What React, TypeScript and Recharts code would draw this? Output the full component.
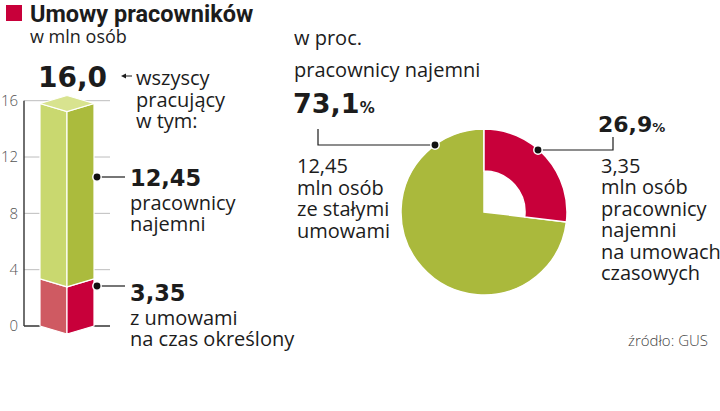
import React from 'react';
import {
  BarChart,
  Bar,
  XAxis,
  YAxis,
  CartesianGrid,
  PieChart,
  Pie,
  Cell,
} from 'recharts';

const categories = ['pracujący'];
const temporaryContracts = [3.35]; // mln, na czas określony
const permanentContracts = [12.45]; // mln, ze stałymi umowami
const yTicks = [0, 4, 8, 12, 16];

const pieNames = ['na umowach czasowych', 'ze stałymi umowami'];
const pieShares = [26.9, 73.1];

const RED = '#c8003a';
const GREEN = '#aab93c';
const TEXT = '#1c1c1c';
const SANS = '"Open Sans", "Noto Sans", sans-serif';
const TITLE = 'Roboto, "Open Sans", sans-serif';
const FIG = '"DejaVu Sans", sans-serif';

const barData = categories.map((name, i) => ({
  name,
  czasowe: temporaryContracts[i],
  stale: permanentContracts[i],
}));

const pieData = pieNames.map((name, i) => ({ name, value: pieShares[i] }));

// front edge of the prism sits lower than its sides
const DEPTH = 8;

const prism = (leftFill: string, rightFill: string, topFill?: string) => (props: any) => {
  const { x, y, width, height } = props;
  const cx = x + width / 2;
  const b = y + height;
  return (
    <g>
      <polygon
        points={`${x},${y} ${cx},${y + DEPTH} ${cx},${b + DEPTH} ${x},${b}`}
        fill={leftFill}
        stroke="#fff"
        strokeWidth={1.2}
      />
      <polygon
        points={`${cx},${y + DEPTH} ${x + width},${y} ${x + width},${b} ${cx},${b + DEPTH}`}
        fill={rightFill}
        stroke="#fff"
        strokeWidth={1.2}
      />
      {topFill && (
        <polygon
          points={`${x},${y} ${cx},${y - DEPTH} ${x + width},${y} ${cx},${y + DEPTH}`}
          fill={topFill}
          stroke="#fff"
          strokeWidth={1.2}
        />
      )}
    </g>
  );
};

const GridLine = (props: any) => {
  const { x1, x2, y1, y2 } = props;
  const isBase = Math.abs(y1 - 326) < 1;
  return (
    <line
      x1={x1}
      x2={x2}
      y1={y1}
      y2={y2}
      stroke={isBase ? '#333' : '#bdbdbd'}
      strokeWidth={isBase ? 1.6 : 1}
    />
  );
};

const Dot = ({ x, y }: { x: number; y: number }) => (
  <circle cx={x} cy={y} r={4.2} fill="#111" stroke="#fff" strokeWidth={1.5} />
);

const Lines = ({ x, y, lines, step }: { x: number; y: number; lines: string[]; step: number }) => (
  <g fontFamily={SANS} fontSize={20} fill={TEXT}>
    {lines.map((l, i) => (
      <text key={i} x={x} y={y + i * step}>
        {l}
      </text>
    ))}
  </g>
);

const Overlay = () => (
  <svg
    width={720}
    height={411}
    style={{ position: 'absolute', left: 0, top: 0, pointerEvents: 'none' }}
  >
    {/* title */}
    <rect x={6} y={5} width={16} height={16} fill={RED} />
    <text x={30} y={22} fontFamily={TITLE} fontWeight={700} fontSize={23.5} fill={TEXT}>
      Umowy pracowników
    </text>
    <text x={30} y={43} fontFamily={SANS} fontSize={18} fill={TEXT}>
      w mln osób
    </text>

    {/* left: total */}
    <text x={38} y={87} fontFamily={FIG} fontWeight={700} fontSize={28} fill={TEXT}>
      16,0
    </text>
    <polygon points="121,76 126,73.5 126,78.5" fill={TEXT} />
    <line x1={125} y1={76} x2={132} y2={76} stroke={TEXT} strokeWidth={1} />
    <Lines x={136} y={85} step={21.5} lines={['wszyscy', 'pracujący', 'w tym:']} />

    {/* left: segments */}
    <line x1={97} y1={177} x2={125} y2={177} stroke={TEXT} strokeWidth={1.2} />
    <Dot x={97} y={177} />
    <text x={130} y={186} fontFamily={FIG} fontWeight={700} fontSize={22.5} fill={TEXT}>
      12,45
    </text>
    <Lines x={130} y={210} step={21} lines={['pracownicy', 'najemni']} />

    <line x1={97} y1={286} x2={125} y2={286} stroke={TEXT} strokeWidth={1.2} />
    <Dot x={97} y={286} />
    <text x={130} y={301} fontFamily={FIG} fontWeight={700} fontSize={22.5} fill={TEXT}>
      3,35
    </text>
    <Lines x={130} y={325} step={21} lines={['z umowami', 'na czas określony']} />

    {/* right: header */}
    <Lines x={294} y={45} step={32} lines={['w proc.', 'pracownicy najemni']} />
    <text x={293} y={113} fontFamily={FIG} fontWeight={700} fontSize={27} fill={TEXT}>
      73,1<tspan fontSize={15}>%</tspan>
    </text>

    <polyline points="318,129 318,145 435,145" fill="none" stroke={TEXT} strokeWidth={1.2} />
    <Dot x={435} y={145} />
    <Lines x={297} y={173} step={21.7} lines={['12,45', 'mln osób', 'ze stałymi', 'umowami']} />

    <text x={598} y={132} fontFamily={FIG} fontWeight={700} fontSize={22} fill={TEXT}>
      26,9<tspan fontSize={13}>%</tspan>
    </text>
    <polyline points="538,150 613,150 613,137" fill="none" stroke={TEXT} strokeWidth={1.2} />
    <Dot x={538} y={150} />
    <Lines
      x={601}
      y={173}
      step={21.4}
      lines={['3,35', 'mln osób', 'pracownicy', 'najemni', 'na umowach', 'czasowych']}
    />

    <text x={628} y={346} fontFamily={SANS} fontWeight={300} fontSize={15} fill="#444">
      źródło: GUS
    </text>
  </svg>
);

const App: React.FC = () => {
  return (
    <div
      style={{
        position: 'absolute',
        left: 0,
        top: 0,
        width: 720,
        height: 411,
        background: '#fff',
        overflow: 'hidden',
      }}
    >
      <div style={{ position: 'absolute', left: 0, top: 0 }}>
        <BarChart
          width={130}
          height={411}
          data={barData}
          margin={{ top: 100.7, right: 20, bottom: 85, left: 0 }}
          barSize={54}
        >
          <CartesianGrid vertical={false} horizontal={GridLine} />
          <XAxis dataKey="name" hide />
          <YAxis
            width={24}
            domain={[0, 16]}
            ticks={yTicks}
            interval={0}
            tickLine={false}
            tickSize={4}
            tickMargin={2}
            axisLine={{ stroke: '#333', strokeWidth: 1.4 }}
            tick={{ fontSize: 15, fill: '#555', fontFamily: SANS, fontWeight: 300 }}
          />
          <Bar
            dataKey="czasowe"
            stackId="a"
            isAnimationActive={false}
            shape={prism('#cf5a62', '#c8003a')}
          />
          <Bar
            dataKey="stale"
            stackId="a"
            isAnimationActive={false}
            shape={prism('#c9d86f', '#abbb3d', '#d8e38f')}
          />
        </BarChart>
      </div>

      <div style={{ position: 'absolute', left: 384, top: 112 }}>
        <PieChart width={200} height={200} margin={{ top: 0, right: 0, bottom: 0, left: 0 }}>
          <Pie
            data={pieData}
            dataKey="value"
            cx={100}
            cy={100}
            innerRadius={0}
            outerRadius={83}
            startAngle={90}
            endAngle={-270}
            isAnimationActive={false}
          >
            {pieData.map((_, i) => (
              <Cell
                key={`g-${i}`}
                fill={i === 1 ? GREEN : 'none'}
                stroke={i === 1 ? '#fff' : 'none'}
                strokeWidth={1.5}
              />
            ))}
          </Pie>
          <Pie
            data={pieData}
            dataKey="value"
            cx={100}
            cy={100}
            innerRadius={41}
            outerRadius={83}
            startAngle={90}
            endAngle={-270}
            isAnimationActive={false}
          >
            {pieData.map((_, i) => (
              <Cell
                key={`r-${i}`}
                fill={i === 0 ? RED : 'none'}
                stroke={i === 0 ? '#fff' : 'none'}
                strokeWidth={1.5}
              />
            ))}
          </Pie>
        </PieChart>
      </div>

      <Overlay />
    </div>
  );
};

export default App;
